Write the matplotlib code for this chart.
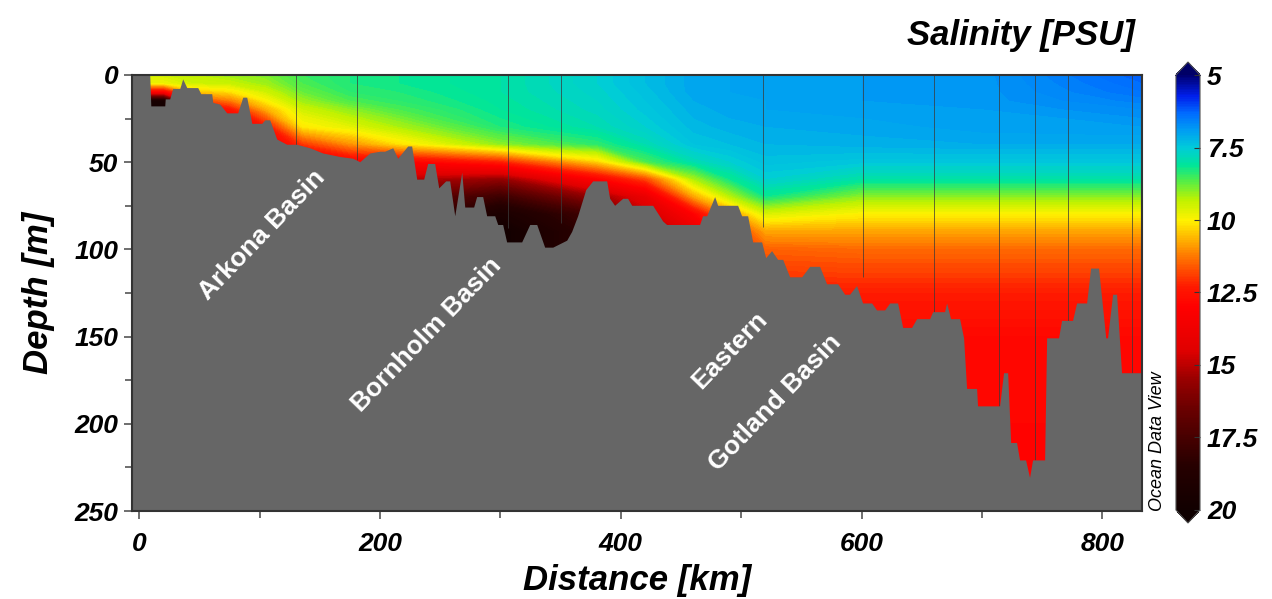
import numpy as np
import matplotlib
matplotlib.use("Agg")
import matplotlib.pyplot as plt
from matplotlib.colors import LinearSegmentedColormap, Normalize

plt.rcParams['font.family'] = ['Liberation Sans Narrow', 'Liberation Sans', 'DejaVu Sans']

# bottom profile along the section: (distance km, depth m)
bottom_profile = [
    (-6, 0), (9.1, 0), (10.0, 18), (21.6, 18), (22, 14), (25.7, 14), (28.2, 8), (34.1, 8),
    (36.5, 2.5), (39.9, 7.5), (49.0, 7.5), (51.5, 11), (60.6, 11), (61.5, 16), (67.3, 17),
    (73.1, 22), (82.2, 22), (86.4, 13), (89.7, 13), (93.9, 28), (102.2, 28), (104.7, 26),
    (108.8, 26), (114.6, 37), (122.9, 40), (131.2, 40), (142.0, 42), (152.8, 45), (166.9, 47),
    (177.7, 48), (183.6, 50), (191.9, 45), (200.2, 44), (204.3, 44), (211.0, 42), (215.1, 48),
    (223.4, 41), (226.7, 41), (230.9, 60), (236.7, 60), (240.0, 51), (245.8, 51), (249.2, 65),
    (255.0, 61), (258.3, 61), (262.5, 81), (268.3, 56), (270.8, 76), (278.2, 76), (280.7, 70),
    (285.7, 70), (289.0, 81), (295.7, 81), (298.2, 86), (302.3, 86), (305.6, 96), (318.1, 96),
    (324.8, 86), (330.6, 86), (337.2, 99), (343.9, 99), (355.5, 95), (359.6, 90), (364.6, 81),
    (371.3, 66), (377.1, 61), (388.7, 61), (391.2, 71), (395.3, 75), (402.0, 71), (406.1, 71),
    (409.5, 75), (426.9, 75), (435.2, 84), (438.5, 86), (465.9, 86), (468.4, 81), (471.8, 81),
    (478.4, 70), (480.9, 75), (497.5, 75), (500.8, 81), (505.8, 81), (510.0, 96), (517.4, 96),
    (520.8, 105), (525.7, 101), (530.7, 106), (534.9, 106), (540.7, 116), (550.7, 116),
    (557.3, 110), (565.6, 110), (571.4, 120), (580.6, 120), (586.4, 126), (590.5, 126),
    (596.3, 121), (601.3, 131), (608.8, 131), (612.9, 135), (619.6, 135), (623.8, 131),
    (630.4, 131), (634.6, 145), (642.0, 145), (646.2, 140), (657.0, 140), (659.5, 136),
    (669.4, 136), (671.1, 131), (674.4, 140), (681.9, 140), (685.2, 151), (687.7, 180),
    (696.0, 180), (696.8, 190), (715.1, 190), (718.4, 171), (721.8, 171), (724.3, 211),
    (729.2, 211), (731.7, 221), (736.7, 221), (740.0, 231), (742.5, 221), (752.5, 221),
    (754.2, 151), (764.1, 151), (766.6, 141), (775.7, 141), (779.1, 131), (787.4, 131),
    (790.7, 111), (797.3, 111), (803.3, 151), (804.8, 151), (809.0, 126), (812.3, 126),
    (816.4, 171), (833, 171),
]

# CTD stations (distance km, cast depth m)
station_km = [130.4, 181.1, 306.5, 350.5, 518.3, 601.3, 660.3, 714.3, 744.2, 771.6, 824.8]
station_m = [40, 49, 88, 85, 87, 116, 136, 190, 221, 141, 171]

# salinity grid [PSU], one list per grid column
grid_km = [-6, 20, 45, 75, 105, 135, 175, 215, 300, 380, 420, 460, 490, 520, 600, 700, 833]
grid_m = [0, 5, 10, 15, 20, 30, 40, 50, 60, 70, 80, 90, 100, 125, 150, 250]
sal_cols = [
    [9.5, 9.8, 13.0, 19.5, 20, 20, 20, 20, 20, 20, 20, 20, 20, 20, 20, 20],
    [9.5, 9.8, 13.0, 19.5, 20, 20, 20, 20, 20, 20, 20, 20, 20, 20, 20, 20],
    [9.3, 9.5, 10.5, 12.0, 13.0, 13.5, 14, 14, 14, 14, 14, 14, 14, 14, 14, 14],
    [9.1, 9.4, 10.2, 11.2, 12.5, 13.5, 14, 14, 14, 14, 14, 14, 14, 14, 14, 14],
    [8.9, 9.1, 9.5, 10.0, 10.7, 12.5, 13.5, 14, 14, 14, 14, 14, 14, 14, 14, 14],
    [8.5, 8.6, 8.8, 9.1, 9.5, 10.1, 12.0, 13.5, 14, 14, 14, 14, 14, 14, 14, 14],
    [8.3, 8.3, 8.4, 8.6, 9.0, 9.7, 11.0, 13.0, 14.5, 15, 15, 15, 15, 15, 15, 15],
    [8.2, 8.2, 8.3, 8.4, 8.6, 9.2, 10.2, 13.0, 15.0, 16.5, 17.5, 18, 18, 18, 18, 18],
    [8.0, 8.0, 8.0, 8.05, 8.1, 8.3, 9.0, 12.2, 15.6, 17.8, 19.3, 20, 20, 20, 20, 20],
    [7.6, 7.6, 7.65, 7.7, 7.75, 7.9, 8.4, 10.3, 13.0, 15.5, 17.5, 18, 18, 18, 18, 18],
    [7.3, 7.3, 7.35, 7.4, 7.45, 7.6, 7.9, 8.6, 11.8, 14.0, 15.0, 16, 16, 16, 16, 16],
    [7.05, 7.05, 7.05, 7.1, 7.15, 7.25, 7.4, 7.9, 9.2, 10.8, 13.0, 14.0, 14.5, 14.5, 14.5, 14.5],
    [7.0, 7.0, 7.0, 7.0, 7.05, 7.15, 7.3, 7.6, 8.2, 9.3, 11.0, 12.2, 12.5, 12.7, 12.8, 13.0],
    [6.95, 6.95, 6.95, 7.0, 7.0, 7.1, 7.2, 7.35, 7.6, 8.2, 9.6, 10.8, 11.5, 12.3, 12.7, 13.0],
    [6.9, 6.9, 6.9, 6.9, 6.95, 7.05, 7.15, 7.45, 8.0, 9.0, 10.0, 10.8, 11.4, 12.3, 12.8, 13.0],
    [6.85, 6.85, 6.85, 6.85, 6.9, 6.95, 7.1, 7.45, 8.0, 9.0, 10.0, 10.8, 11.4, 12.3, 12.8, 13.0],
    [6.2, 6.3, 6.4, 6.55, 6.7, 6.9, 7.1, 7.45, 8.0, 9.0, 10.0, 10.8, 11.4, 12.3, 12.8, 13.0],
]

basin_labels = ["Arkona Basin", "Bornholm Basin", "Eastern", "Gotland Basin"]
basin_km = [102, 239, 491, 528]
basin_m = [92, 149, 158, 188]

# ODV-like colour scale
cmap_nodes = [
    (5.0, (0.0, 0.0, 0.45)), (5.7, (0.0, 0.12, 0.92)), (6.3, (0.0, 0.42, 1.0)),
    (6.9, (0.0, 0.62, 0.95)), (7.5, (0.0, 0.8, 0.85)), (8.1, (0.0, 0.9, 0.6)),
    (8.6, (0.3, 0.93, 0.3)), (9.3, (0.75, 0.95, 0.0)), (10.0, (1.0, 0.95, 0.0)),
    (10.6, (1.0, 0.72, 0.0)), (11.3, (1.0, 0.45, 0.0)), (12.3, (1.0, 0.1, 0.0)),
    (13.0, (1.0, 0.0, 0.0)), (14.5, (0.88, 0.0, 0.0)), (15.5, (0.6, 0.0, 0.0)),
    (16.5, (0.42, 0.0, 0.0)), (17.5, (0.28, 0.0, 0.0)), (18.5, (0.15, 0.0, 0.0)),
    (20.0, (0.07, 0.0, 0.0)),
]
vmin, vmax = 5.0, 20.0
cmap = LinearSegmentedColormap.from_list(
    "odv", [((v - vmin) / (vmax - vmin), c) for v, c in cmap_nodes], N=256)
cmap.set_under((0.0, 0.0, 0.4))
cmap.set_over((0.05, 0.0, 0.0))
norm = Normalize(vmin, vmax)

fig = plt.figure(figsize=(12.72, 5.99), dpi=100)
ax = fig.add_axes([0.1038, 0.1469, 0.794, 0.7279])

X, Y = np.meshgrid(grid_km, grid_m)
Z = np.array(sal_cols).T
ax.contourf(X, Y, Z, levels=np.arange(5, 20.05, 0.1), cmap=cmap, norm=norm, extend='both')

bkm = [p[0] for p in bottom_profile]
bm = [p[1] for p in bottom_profile]
ax.fill(bkm + [833, -6], bm + [260, 260], color='#666666', lw=0, zorder=3)

ax.vlines(station_km, 0, station_m, colors='#3a3a3a', lw=0.7, alpha=0.75, zorder=2)

for lab, x, y in zip(basin_labels, basin_km, basin_m):
    ax.text(x, y, lab, color='white', fontsize=19, fontweight='bold',
            family=['Liberation Sans', 'DejaVu Sans'], rotation=46,
            rotation_mode='anchor', ha='center', va='center', zorder=4)

ax.set_xlim(-6, 833)
ax.set_ylim(250, 0)
ax.set_xticks([0, 200, 400, 600, 800])
ax.set_xticks([100, 300, 500, 700], minor=True)
ax.set_yticks([0, 50, 100, 150, 200, 250])
ax.set_yticks([25, 75, 125, 175, 225], minor=True)
ax.tick_params(which='both', direction='out', color='#555555', width=1.2)
ax.tick_params(which='major', length=6, labelsize=19)
ax.tick_params(which='minor', length=5)
ax.tick_params(axis='x', which='major', pad=9)
ax.tick_params(axis='y', which='major', pad=4)
for lab in ax.get_xticklabels() + ax.get_yticklabels():
    lab.set_fontweight('bold')
    lab.set_fontstyle('italic')
for sp in ax.spines.values():
    sp.set_linewidth(1.5)
    sp.set_color('#333333')
    sp.set_zorder(5)

ax.set_xlabel("Distance [km]", fontsize=25, fontweight='bold', fontstyle='italic', labelpad=6)
ax.set_ylabel("Depth [m]", fontsize=25, fontweight='bold', fontstyle='italic', labelpad=14)
fig.text(0.892, 0.94, "Salinity [PSU]", fontsize=25, fontweight='bold', fontstyle='italic',
         ha='right', va='center')

# colorbar: body spans the same height as the section, arrows outside it
cax = fig.add_axes([0.9245, 1 - 523 / 599, 0.0189, 461 / 599])
sm = plt.cm.ScalarMappable(norm=norm, cmap=cmap)
cb = fig.colorbar(sm, cax=cax, extend='both', extendfrac=0.03)
cb.set_ticks([5, 7.5, 10, 12.5, 15, 17.5, 20])
cb.set_ticklabels(['5', '7.5', '10', '12.5', '15', '17.5', '20'])
cax.invert_yaxis()
cax.tick_params(direction='in', length=4, color='#333333', labelsize=19, pad=5)
for lab in cax.get_yticklabels():
    lab.set_fontweight('bold')
    lab.set_fontstyle('italic')
cb.outline.set_linewidth(0.8)
cb.outline.set_edgecolor('#555555')

fig.text(0.910, 0.147, "Ocean Data View", rotation=90, fontsize=13, fontstyle='italic',
         family=['Liberation Sans', 'DejaVu Sans'], ha='center', va='bottom')

fig.savefig("out.png", dpi=100)
